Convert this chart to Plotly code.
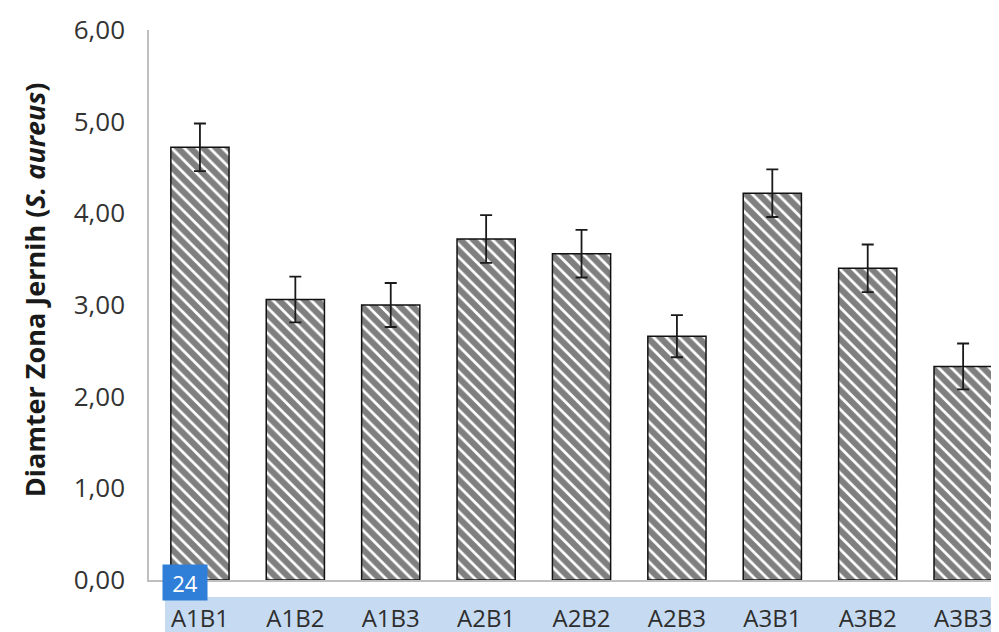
import plotly.graph_objects as go

categories = ["A1B1", "A1B2", "A1B3", "A2B1", "A2B2", "A2B3", "A3B1", "A3B2", "A3B3"]
means = [4.72, 3.06, 3.00, 3.72, 3.56, 2.66, 4.22, 3.40, 2.33]
errors = [0.26, 0.25, 0.24, 0.26, 0.26, 0.23, 0.26, 0.26, 0.25]
y_ticks = [0, 1, 2, 3, 4, 5, 6]
y_tick_labels = ["0,00", "1,00", "2,00", "3,00", "4,00", "5,00", "6,00"]

fig = go.Figure()
fig.add_trace(go.Bar(
    x=categories,
    y=means,
    marker=dict(
        color="white",
        line=dict(color="#111111", width=1.5),
        pattern=dict(shape="\\", fgcolor="#000000", bgcolor="white", size=9, solidity=0.7),
    ),
    error_y=dict(type="data", array=errors, visible=True, color="#1a1a1a", thickness=1.8, width=6),
))

fig.update_layout(
    width=999, height=632,
    margin=dict(l=141, r=0, t=22, b=60),
    paper_bgcolor="white", plot_bgcolor="white",
    bargap=0.39,
    showlegend=False,
    font=dict(family="Open Sans, sans-serif", color="#404040"),
    xaxis=dict(
        range=[-0.534, 8.46],
        showline=True, linecolor="#bfbfbf", linewidth=1.5,
        showgrid=False, ticks="", tickfont=dict(size=24, color="#2e2e2e"),
        ticklabelstandoff=16,
    ),
    yaxis=dict(
        range=[0, 6], tickvals=y_ticks, ticktext=y_tick_labels,
        showline=True, linecolor="#bfbfbf", linewidth=1.5,
        showgrid=False, zeroline=False, ticks="",
        tickfont=dict(size=26, color="#333333"),
        ticklabelstandoff=17,
    ),
    shapes=[
        dict(type="rect", xref="paper", yref="paper", x0=0.0186, x1=1.0, y0=-0.031, y1=-0.13,
             fillcolor="#c6dbf1", line=dict(width=0), layer="below"),
    ],
    annotations=[
        dict(text="<b>Diamter Zona Jernih (<i>S. aureus</i>)</b>", xref="paper", yref="paper",
             x=0, y=0.527, xanchor="center", yanchor="middle", xshift=-115, textangle=-90,
             showarrow=False, font=dict(size=27, color="#1a1a1a", family="Open Sans, sans-serif")),
        dict(text="24", xref="paper", yref="paper", x=0.042, y=-0.0045, xanchor="center", yanchor="middle",
             showarrow=False, font=dict(size=22, color="white", family="Open Sans, sans-serif"),
             bgcolor="#2f7ed8", borderpad=4, width=36, height=27),
    ],
)

fig.write_html("out.html")
